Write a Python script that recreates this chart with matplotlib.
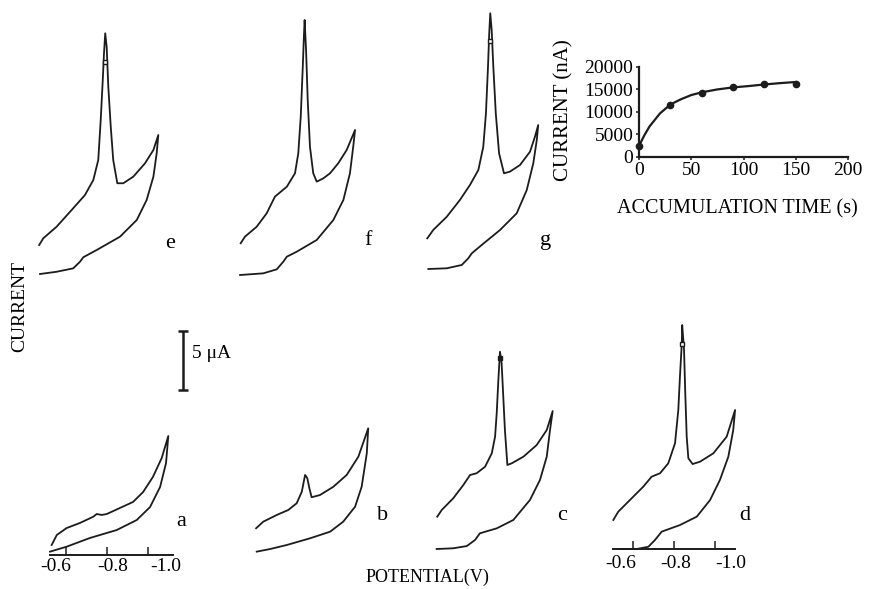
import matplotlib.pyplot as plt

plt.rcParams['font.family'] = ['Liberation Serif', 'DejaVu Serif']

FIG_W, FIG_H = 869, 589
PX_PER_V = 205.0      # horizontal scale of every voltammogram
PX_PER_UA = 11.8      # vertical scale (5 uA bar)
V_LEFT, V_RIGHT = -0.45, -1.2
I_LOW, I_HIGH = -1.5, 23.0
INK = '#1c1c1c'

# --- voltammograms a-g: potential (V) and current (uA), forward scan then return
a_potential = [-0.530, -0.555, -0.603, -0.668, -0.733, -0.750, -0.774, -0.799, -0.863, -0.927, -0.976,
               -1.024, -1.067, -1.099, -1.088, -1.059, -1.010, -0.945, -0.847, -0.717, -0.603, -0.522]
a_current = [0.59, 1.44, 2.03, 2.46, 2.99, 3.22, 3.14, 3.22, 3.73, 4.24, 5.08,
             6.36, 7.97, 9.83, 7.54, 5.51, 3.81, 2.71, 1.86, 1.19, 0.45, 0.03]

b_potential = [-0.537, -0.572, -0.638, -0.694, -0.735, -0.760, -0.776, -0.787, -0.797, -0.808, -0.849, -0.914,
               -0.979, -1.036, -1.084, -1.077, -1.052, -1.020, -0.962, -0.898, -0.800, -0.686, -0.605, -0.540]
b_current = [2.01, 2.57, 3.14, 3.56, 4.13, 5.11, 6.53, 6.25, 5.40, 4.64, 4.83, 5.53,
             6.53, 8.08, 10.48, 8.36, 5.53, 3.84, 2.57, 1.72, 1.16, 0.59, 0.25, 0.03]

c_potential = [-0.533, -0.555, -0.611, -0.660, -0.693, -0.725, -0.766, -0.799, -0.815, -0.823, -0.831,
               -0.839, -0.847, -0.855, -0.863, -0.875, -0.896, -0.953, -1.018, -1.067, -1.096,
               -1.083, -1.067, -1.034, -0.985, -0.904, -0.823, -0.741, -0.717, -0.677, -0.611, -0.530]
c_current = [2.74, 3.31, 4.30, 5.42, 6.27, 6.42, 6.97, 8.11, 9.52, 11.50, 14.32,
             16.72, 15.74, 12.91, 10.08, 7.12, 7.26, 7.82, 8.81, 10.08, 11.69,
             10.08, 7.82, 5.85, 4.15, 2.46, 1.75, 1.33, 0.76, 0.25, 0.06, 0.0]

d_potential = [-0.504, -0.528, -0.585, -0.650, -0.691, -0.732, -0.772, -0.805, -0.821, -0.829, -0.838,
               -0.840, -0.849, -0.855, -0.862, -0.870, -0.891, -0.927, -0.992, -1.057, -1.098,
               -1.089, -1.065, -1.024, -0.976, -0.911, -0.829, -0.740, -0.707, -0.675, -0.618, -0.537]
d_current = [2.46, 3.16, 4.15, 5.28, 6.13, 6.42, 7.26, 8.96, 11.78, 14.60, 17.43,
             18.98, 16.86, 13.19, 9.52, 7.69, 7.20, 7.40, 8.11, 9.52, 11.78,
             10.08, 7.82, 5.85, 4.15, 2.74, 2.03, 1.47, 0.76, 0.19, 0.0, 0.0]

e_potential = [-0.523, -0.543, -0.608, -0.681, -0.746, -0.787, -0.811, -0.823, -0.833, -0.839, -0.845,
               -0.852, -0.860, -0.872, -0.884, -0.904, -0.933, -0.982, -1.039, -1.080, -1.104,
               -1.096, -1.080, -1.047, -0.999, -0.917, -0.803, -0.738, -0.722, -0.689, -0.608, -0.527]
e_current = [2.46, 3.03, 4.01, 5.42, 6.69, 7.97, 9.66, 13.05, 16.44, 18.70, 20.40,
             19.26, 15.87, 12.48, 9.66, 7.69, 7.69, 8.25, 9.38, 10.51, 11.78,
             10.23, 8.25, 6.27, 4.58, 3.16, 2.03, 1.42, 1.04, 0.48, 0.19, 0.0]

f_potential = [-0.535, -0.556, -0.613, -0.662, -0.702, -0.760, -0.800, -0.816, -0.828, -0.838, -0.844,
               -0.847, -0.854, -0.862, -0.873, -0.889, -0.906, -0.938, -0.971, -1.011, -1.052, -1.093,
               -1.084, -1.068, -1.036, -0.987, -0.906, -0.808, -0.760, -0.743, -0.711, -0.645, -0.532]
f_current = [2.69, 3.25, 4.09, 5.23, 6.64, 7.48, 8.62, 10.31, 13.42, 17.65, 20.48,
             21.61, 19.07, 14.83, 10.87, 8.62, 7.91, 8.19, 8.62, 9.47, 10.59, 12.29,
             10.87, 8.62, 6.36, 4.66, 2.97, 1.97, 1.55, 1.13, 0.48, 0.14, 0.0]

g_potential = [-0.543, -0.572, -0.638, -0.702, -0.751, -0.792, -0.816, -0.829, -0.839, -0.845, -0.850,
               -0.857, -0.865, -0.877, -0.893, -0.917, -0.946, -0.995, -1.044, -1.068, -1.084,
               -1.077, -1.060, -1.028, -0.979, -0.898, -0.808, -0.760, -0.743, -0.711, -0.638, -0.548]
g_current = [2.60, 3.31, 4.43, 5.85, 7.12, 8.39, 10.36, 13.19, 17.14, 19.97, 21.67,
             20.25, 17.14, 13.19, 9.81, 8.11, 8.25, 8.81, 9.94, 11.21, 12.20,
             10.93, 8.96, 6.69, 4.72, 3.31, 2.03, 1.33, 0.91, 0.34, 0.06, 0.0]

# small notch drawn near the top of some peaks
peak_notch = {'c': (-0.840, 16.2), 'd': (-0.841, 17.4), 'e': (-0.846, 18.0), 'g': (-0.850, 19.3)}

pot_ticks = [-0.6, -0.8, -1.0]
pot_tick_labels = ['-0.6', '-0.8', '-1.0']

# --- inset: peak current vs accumulation time
acc_time = [0, 30, 60, 90, 120, 150]
acc_current = [2400, 11500, 14200, 15400, 16100, 16200]
fit_time = [0, 5, 10, 20, 30, 40, 50, 60, 75, 90, 105, 120, 135, 150]
fit_current = [2400, 4700, 6700, 9600, 11600, 12750, 13700, 14300, 14950, 15400, 15700, 16050, 16350, 16600]
time_ticks = [0, 50, 100, 150, 200]
inset_current_ticks = [0, 5000, 10000, 15000, 20000]

# page layout: pixel x of -0.6 V and pixel y of 0 uA for each trace
PANEL_ORIGIN = {'a': (66, 552), 'b': (269, 552), 'c': (451, 549), 'd': (633, 549),
                'e': (55, 274), 'f': (254, 275), 'g': (439, 269)}
LETTER_XY = {'a': (181, 521), 'b': (383, 516), 'c': (562, 516), 'd': (745, 515),
             'e': (170, 243), 'f': (368, 240), 'g': (546, 241)}


def fx(px):
    return px / FIG_W


def fy(py):
    return 1 - py / FIG_H


def panel_axes(fig, x06, y0):
    left = x06 + (-0.6 - V_LEFT) * PX_PER_V
    bottom = y0 - I_LOW * PX_PER_UA
    width = (V_LEFT - V_RIGHT) * PX_PER_V
    height = (I_HIGH - I_LOW) * PX_PER_UA
    ax = fig.add_axes([fx(left), fy(bottom), width / FIG_W, height / FIG_H])
    ax.set_xlim(V_LEFT, V_RIGHT)
    ax.set_ylim(I_LOW, I_HIGH)
    ax.set_facecolor('none')
    for s in ax.spines.values():
        s.set_visible(False)
    ax.set_xticks([])
    ax.set_yticks([])
    return ax


def potential_scale(ax, y_axis, lo, hi, label_pos, label_y):
    sp = ax.spines['bottom']
    sp.set_visible(True)
    sp.set_position(('data', y_axis))
    sp.set_bounds(hi, lo)
    sp.set_linewidth(1.4)
    sp.set_color(INK)
    ax.set_xticks(pot_ticks)
    ax.tick_params(axis='x', direction='in', length=6, width=1.1, color=INK, labelbottom=False)
    for v, lab in zip(label_pos, pot_tick_labels):
        ax.text(v, label_y, lab, ha='center', va='center', fontsize=14, clip_on=False)


fig = plt.figure(figsize=(FIG_W / 100, FIG_H / 100), dpi=100)

traces = {'a': (a_potential, a_current), 'b': (b_potential, b_current),
          'c': (c_potential, c_current), 'd': (d_potential, d_current),
          'e': (e_potential, e_current), 'f': (f_potential, f_current),
          'g': (g_potential, g_current)}

axes = {}
for key, (pot, cur) in traces.items():
    ax = panel_axes(fig, *PANEL_ORIGIN[key])
    ax.plot(pot, cur, color=INK, lw=1.3, solid_joinstyle='round')
    if key in peak_notch:
        v, i = peak_notch[key]
        filled = key == 'c'
        ax.plot([v], [i], marker='s', ms=3.2, mew=1.0, color=INK,
                mfc=INK if filled else 'white')
    axes[key] = ax
    lx, ly = LETTER_XY[key]
    fig.text(fx(lx), fy(ly), key, ha='center', va='center', fontsize=16)

# potential axes under a and d
potential_scale(axes['a'], -0.25, -0.522, -1.122, [-0.551, -0.829, -1.088], -1.19)
potential_scale(axes['d'], 0.0, -0.502, -1.098, [-0.541, -0.810, -1.078], -1.19)

# 5 uA scale bar, drawn in panel a units
eb = axes['a'].errorbar([-1.169], [16.23], yerr=[2.5], fmt='none', ecolor=INK,
                        elinewidth=1.8, capsize=3.5, capthick=1.8)
fig.text(fx(192), fy(353), '5 μA', ha='left', va='center', fontsize=14)

fig.text(fx(20), fy(306), 'CURRENT', rotation=90, ha='center', va='center', fontsize=14)
fig.text(fx(427), fy(577), 'POTENTIAL(V)', ha='center', va='center', fontsize=13)

# inset
ax_in = fig.add_axes([fx(639), fy(156.7), 209 / FIG_W, 90 / FIG_H])
ax_in.plot(fit_time, fit_current, color=INK, lw=1.6)
ax_in.plot(acc_time, acc_current, 'o', ms=4.5, color=INK, clip_on=False)
ax_in.set_xlim(0, 200)
ax_in.set_ylim(0, 20000)
ax_in.set_xticks(time_ticks)
ax_in.set_yticks(inset_current_ticks)
for side in ['top', 'right']:
    ax_in.spines[side].set_visible(False)
for side in ['left', 'bottom']:
    ax_in.spines[side].set_linewidth(1.6)
    ax_in.spines[side].set_color(INK)
ax_in.tick_params(labelsize=14, length=2.5, width=1.1, pad=1.5, color=INK)
ax_in.set_facecolor('none')
fig.text(fx(564), fy(110), 'CURRENT (nA)', rotation=90, ha='center', va='center', fontsize=15)
fig.text(fx(737), fy(209), 'ACCUMULATION TIME (s)', ha='center', va='center', fontsize=14.5)

fig.savefig('out.png', dpi=100)
